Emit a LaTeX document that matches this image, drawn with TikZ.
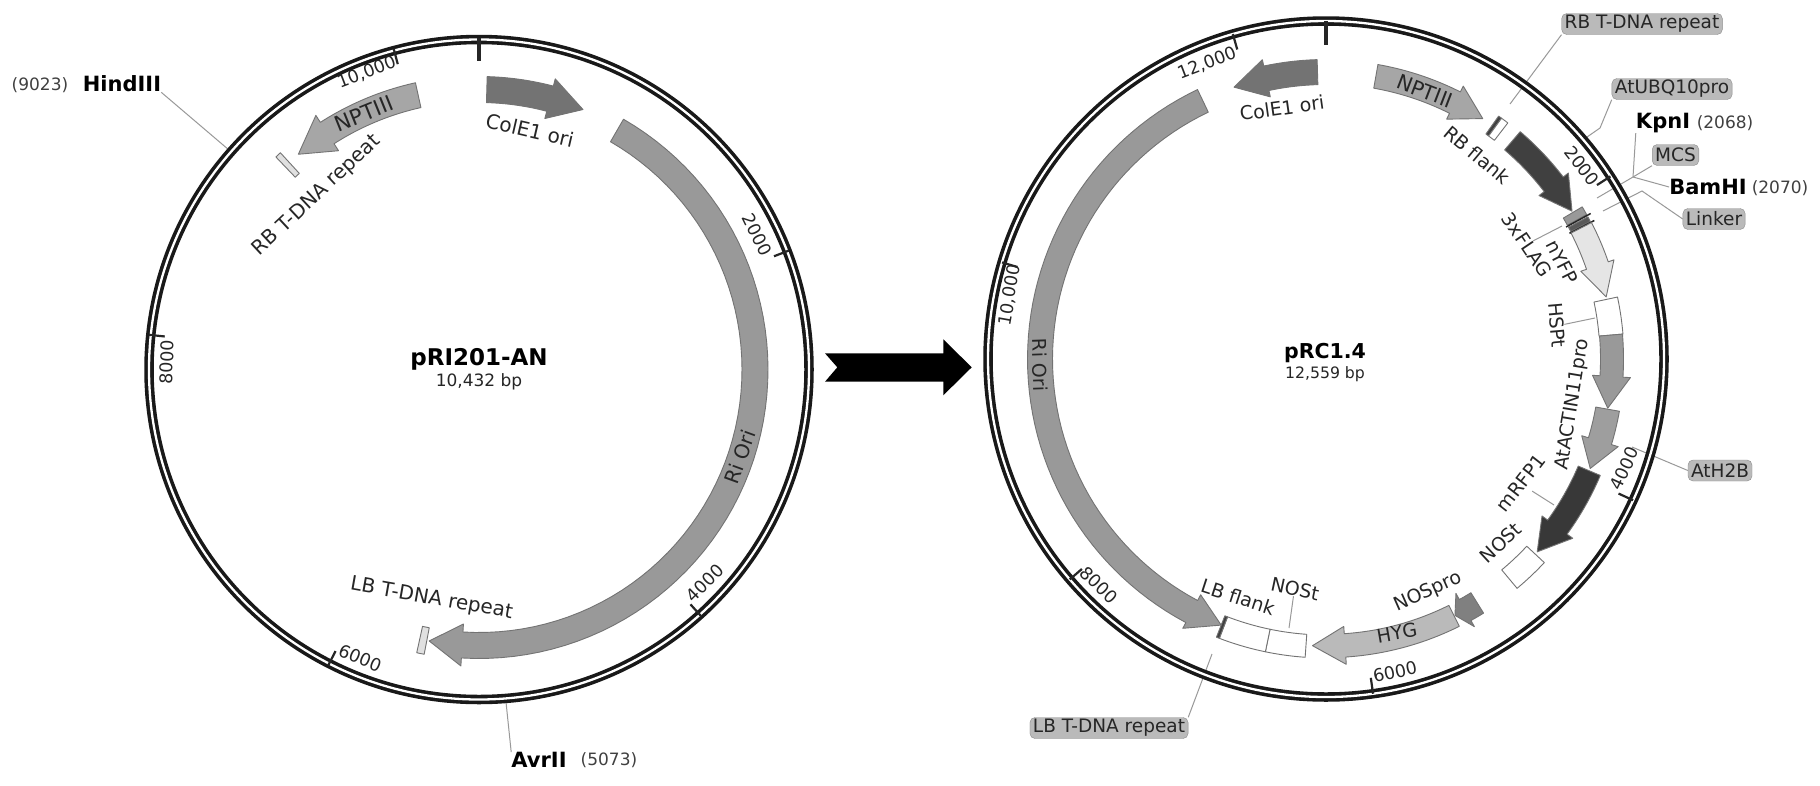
\documentclass[tikz,border=0pt]{standalone}
\usepackage{fontspec}
\setmainfont{DejaVu Sans}
\usepackage{tikz}
\newcommand{\lblfont}{\fontsize{20}{23}\selectfont}
\newcommand{\lblsmall}{\fontsize{19}{22}\selectfont}
\newcommand{\tickfont}{\fontsize{17.5}{20}\selectfont}
\newcommand{\numfont}{\fontsize{17}{20}\selectfont}
\newcommand{\sitefont}{\fontsize{21}{24}\selectfont\bfseries}
% radius, half width, half head, start, base, tip, fill
\newcommand{\genearrow}[7]{%
	\filldraw[gene,fill=#7] plot[domain=#4:#5,samples=60] ({\x-90}:{#1+#2}) -- ({#5-90}:{#1+#3}) -- ({#6-90}:#1) -- ({#5-90}:{#1-#3}) -- plot[domain=#5:#4,samples=60] ({\x-90}:{#1-#2}) -- cycle;}
% radius, half width, start, end, fill
\newcommand{\genebox}[5]{%
	\filldraw[gene,fill=#5] plot[domain=#3:#4,samples=12] ({\x-90}:{#1+#2}) -- plot[domain=#4:#3,samples=12] ({\x-90}:{#1-#2}) -- cycle;}
% angle, inner radius
\newcommand{\ringtick}[2]{\draw[tickline] ({#1-90}:332) -- ({#1-90}:#2);}
\tikzset{
	gene/.style={draw=black!55!white,line width=0.9pt,line join=round},
	ringline/.style={black!90!white,line width=3.6pt,double=white,double distance=2.3pt},
	tickline/.style={black!85!white,line width=2.2pt},
	leader/.style={black!40!white,line width=1pt},
	lbl/.style={inner sep=0pt,text=black!85!white,font=\lblfont},
	lblr/.style={inner sep=0pt,text=black!85!white,font=\lblsmall},
	ticklbl/.style={inner sep=0pt,text=black!85!white,font=\tickfont},
	site/.style={inner sep=0pt,font=\sitefont},
	sitepos/.style={inner sep=0pt,text=black!75!white,font=\numfont},
	capsule/.style={draw=black!45!white,fill=black!27!white,rounded corners=5pt,inner xsep=3pt,inner ysep=0pt,minimum height=21pt,text=black!85!white,font=\fontsize{18.5}{21}\selectfont}
}
\begin{document}
\begin{tikzpicture}[x=1pt,y=-1pt]
	\path[fill=white,use as bounding box] (0,0) rectangle (1820,785);
	% left map
	\node[site] (hind) at (122,84) {HindIII};
	\node[sitepos] (hindpos) at (40,85) {(9023)};
	\node[site] (avr) at (539,760) {AvrII};
	\node[sitepos] (avrpos) at (609,760) {(5073)};
	\draw[leader] (hind.south east) -- (229,150);
	\draw[leader] (avr.north west) -- (506,702);
	\begin{scope}[shift={(479,369.5)}]
		\draw[ringline] (0,0) circle[radius=330pt];
		\draw[tickline,line width=3.4pt] (-90:332) -- (-90:309);
		\ringtick{69}{316}
		\ringtick{138}{316}
		\ringtick{207}{316}
		\ringtick{276}{316}
		\ringtick{345.1}{316}
		\genearrow{280}{13}{20.5}{1.6}{14.7}{21.8}{black!55!white}
		\genearrow{276}{13}{21}{30}{183.5}{190.4}{black!40!white}
		\genearrow{281}{12.7}{21}{-12.5}{-32.7}{-40}{black!35!white}
		\genebox{280}{14}{-43.7}{-42.5}{black!12!white}
		\genebox{276.5}{13.5}{190.9}{192.4}{black!12!white}
	\end{scope}
	\node[lbl,rotate=-13] (colea) at (530,130) {ColE1 ori};
	\node[lbl,rotate=22,font=\fontsize{21.5}{24}\selectfont] (nptiiia) at (364,113.3) {NPTIII};
	\node[lbl,rotate=70] (riora) at (740,457) {Ri Ori};
	\node[lbl,rotate=43] (rbrepeat) at (317,195.5) {RB T-DNA repeat};
	\node[lbl,rotate=-10] (lbrepeat) at (431.5,599) {LB T-DNA repeat};
	\node[ticklbl,rotate=-64] (tka) at (757,235) {2000};
	\node[ticklbl,rotate=45] (tkb) at (705,583) {4000};
	\node[ticklbl,rotate=-23] (tkc) at (360,658) {6000};
	\node[ticklbl,rotate=88] (tkd) at (167,362) {8000};
	\node[ticklbl,rotate=21] (tke) at (366.7,72) {10,000};
	\node[inner sep=0pt,font=\fontsize{23}{26}\selectfont\bfseries] (namea) at (479,359) {pRI201-AN};
	\node[inner sep=0pt,text=black!85!white,font=\numfont] (sizea) at (479,382) {10,432 bp};
	% arrow between the maps
	\fill[black] (825,353.3) -- (837.3,367.3) -- (825,381.7) -- (943.3,381.7) -- (943.3,395.3) -- (971.7,367.3) -- (943.3,339.3) -- (943.3,353.3) -- cycle;
	% right map
	\node[capsule] (rbcap) at (1642,24) {RB T-DNA repeat};
	\node[capsule] (ubqcap) at (1672,89) {AtUBQ10pro};
	\node[capsule] (mcscap) at (1675.5,155) {MCS};
	\node[capsule] (linkcap) at (1714,219) {Linker};
	\node[capsule] (h2bcap) at (1720,470.5) {AtH2B};
	\node[capsule] (lbcap) at (1109,728) {LB T-DNA repeat};
	\node[site] (kpn) at (1663,123) {KpnI};
	\node[sitepos] (kpnpos) at (1725,123) {(2068)};
	\node[site] (bam) at (1708,187) {BamHI};
	\node[sitepos] (bampos) at (1780,188) {(2070)};
	\coordinate (mcsjoin) at (1633,177);
	\draw[leader] (rbcap.south west) -- (1510,104);
	\draw[leader] (ubqcap.south west) -- (1600,128) -- (1587,137);
	\draw[leader] (kpn.south west) -- (mcsjoin);
	\draw[leader] (mcscap.south west) -- (mcsjoin);
	\draw[leader] (bam.west) -- (mcsjoin);
	\draw[leader] (mcsjoin) -- (1597,198);
	\draw[leader] (linkcap.west) -- (1642,191) -- (1603,211);
	\draw[leader] (h2bcap.west) -- (1632,447);
	\draw[leader] (lbcap.north east) -- (1212,654);
	\begin{scope}[shift={(1326,359)}]
		\draw[ringline] (0,0) circle[radius=338pt];
		\draw[tickline,line width=3.4pt] (-90:338) -- (-90:314);
		\draw[tickline] ({57.3-90}:338) -- ({57.3-90}:322);
		\draw[tickline] ({114.7-90}:338) -- ({114.7-90}:322);
		\draw[tickline] ({172-90}:338) -- ({172-90}:322);
		\draw[tickline] ({229.3-90}:338) -- ({229.3-90}:322);
		\draw[tickline] ({286.6-90}:338) -- ({286.6-90}:322);
		\draw[tickline] ({344-90}:338) -- ({344-90}:322);
		\genearrow{287}{12.5}{19}{-1.7}{-12}{-18.7}{black!55!white}
		\genearrow{287}{12}{18.5}{10}{26.7}{33.1}{black!35!white}
		\genebox{287}{11}{35.4}{36.1}{black!75!white}
		\genebox{287}{11}{36.1}{37.6}{white}
		\genearrow{287}{12}{18.5}{40.5}{52.5}{59}{black!75!white}
		\genebox{287}{11}{59.3}{61}{black!40!white}
		\genebox{287}{11}{61.5}{62.5}{black!65!white}
		\draw[tickline,line width=1.5pt] ({61.2-90}:274) -- ({61.2-90}:302);
		\draw[tickline,line width=1.5pt] ({62.7-90}:274) -- ({62.7-90}:302);
		\genearrow{287}{11.5}{17.5}{62.8}{71}{77.5}{black!10!white}
		\genebox{286}{12}{78}{85.2}{white}
		\genearrow{286}{11.5}{19}{85.2}{93.5}{99.9}{black!40!white}
		\genearrow{286}{12}{19}{100.1}{106.7}{112.5}{black!38!white}
		\genearrow{286}{12}{19}{113}{126}{132.4}{black!78!white}
		\genebox{286.5}{12}{133}{140.2}{white}
		\genearrow{287}{12}{19}{148.2}{151}{153.3}{black!50!white}
		\genearrow{287}{11.7}{19}{153.5}{176.2}{182.7}{black!27!white}
		\genebox{287.5}{11.5}{184}{191.7}{white}
		\genebox{287.5}{11.5}{191.7}{200.9}{white}
		\genebox{287.5}{11.5}{200.9}{201.5}{black!75!white}
		\genearrow{286}{12.5}{19}{-25.5}{-152}{-158.5}{black!40!white}
	\end{scope}
	\node[lblr,rotate=8] (coleb) at (1282,108) {ColE1 ori};
	\node[lblr,rotate=-21,font=\fontsize{20.5}{24}\selectfont] (nptiiib) at (1425,91) {NPTIII};
	\node[lblr,rotate=-40] (rbflank) at (1477,155) {RB flank};
	\node[lblr,rotate=-56] (flag) at (1527,245) {3xFLAG};
	\node[lblr,rotate=-63] (yfp) at (1562,262) {nYFP};
	\node[lblr,rotate=-85] (hspt) at (1557,325) {HSPt};
	\node[lblr,rotate=80.6] (actin) at (1573,404.5) {AtACTIN11pro};
	\node[lblr,rotate=52] (rfp) at (1520.7,483) {mRFP1};
	\node[lblr,rotate=43] (nosta) at (1500.7,543) {NOSt};
	\node[lblr,rotate=24] (nospro) at (1428,592) {NOSpro};
	\node[lblr,rotate=10] (hyg) at (1397,633) {HYG};
	\node[lblr,rotate=-12] (nostb) at (1295,589) {NOSt};
	\node[lblr,rotate=-18] (lbflank) at (1238,597) {LB flank};
	\node[lblr,rotate=-88] (riorb) at (1040,365) {Ri Ori};
	\draw[leader] (flag.north) -- (1562,226);
	\draw[leader] (hspt.north) -- (1595,318);
	\draw[leader,shorten <=7pt] (rfp.south) -- (1554,505);
	\draw[leader] (nostb.south) -- (1289,628);
	\node[ticklbl,rotate=-52] (tkf) at (1582,166) {2000};
	\node[ticklbl,rotate=65] (tkg) at (1624.3,468.3) {4000};
	\node[ticklbl,rotate=12] (tkh) at (1395,672) {6000};
	\node[ticklbl,rotate=-44] (tki) at (1099,585) {8000};
	\node[ticklbl,rotate=80] (tkj) at (1010,295) {10,000};
	\node[ticklbl,rotate=21] (tkk) at (1207,63) {12,000};
	\node[inner sep=0pt,font=\fontsize{20.5}{24}\selectfont\bfseries] (nameb) at (1325,353) {pRC1.4};
	\node[inner sep=0pt,text=black!85!white,font=\fontsize{15.7}{18}\selectfont] (sizeb) at (1325,374) {12,559 bp};
\end{tikzpicture}
\end{document}
